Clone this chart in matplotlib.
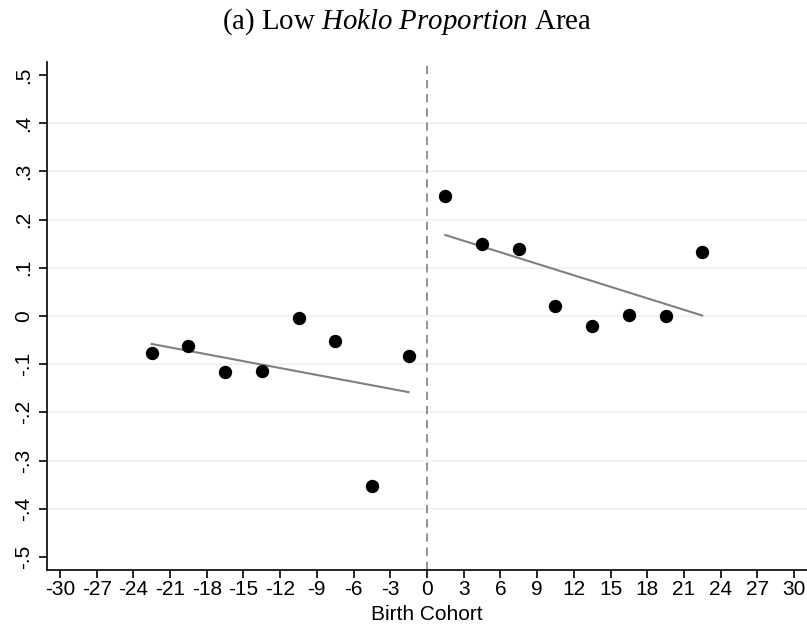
import matplotlib.pyplot as plt

# Binned means by birth cohort
left_x = [-22.5, -19.5, -16.5, -13.5, -10.5, -7.5, -4.5, -1.5]
left_y = [-0.076, -0.062, -0.117, -0.114, -0.004, -0.051, -0.352, -0.084]
right_x = [1.5, 4.5, 7.5, 10.5, 13.5, 16.5, 19.5, 22.5]
right_y = [0.250, 0.149, 0.140, 0.021, -0.021, 0.003, 0.000, 0.133]

# Linear fit endpoints
left_fit_x = [-22.5, -1.5]
left_fit_y = [-0.058, -0.158]
right_fit_x = [1.5, 22.5]
right_fit_y = [0.168, 0.001]

xticks = list(range(-30, 31, 3))
yticks = [-0.5, -0.4, -0.3, -0.2, -0.1, 0, 0.1, 0.2, 0.3, 0.4, 0.5]
ytick_labels = ['-.5', '-.4', '-.3', '-.2', '-.1', '0', '.1', '.2', '.3', '.4', '.5']

plt.rcParams['font.family'] = ['Liberation Sans', 'DejaVu Sans']
plt.rcParams['mathtext.fontset'] = 'custom'
plt.rcParams['mathtext.rm'] = 'Liberation Serif'
plt.rcParams['mathtext.it'] = 'Liberation Serif:italic'

fig = plt.figure(figsize=(8.07, 6.3), dpi=100)
ax = fig.add_axes([0.0582, 0.0952, 0.9418, 0.8064])

# Grid lines (not at the end ticks)
for yv in yticks[1:-1]:
    ax.axhline(yv, color='#eaf2f3', linewidth=1.2, zorder=0)

ax.axvline(0, color='#808080', linestyle=(0, (5, 3.5)), linewidth=1.2, zorder=1)

ax.plot(left_fit_x, left_fit_y, color='#808080', linewidth=1.5, zorder=2)
ax.plot(right_fit_x, right_fit_y, color='#808080', linewidth=1.5, zorder=2)
ax.plot(left_x, left_y, 'o', color='black', markersize=8.6, zorder=3)
ax.plot(right_x, right_y, 'o', color='black', markersize=8.6, zorder=3)

ax.set_xlim(-31.06, 31.06)
ax.set_ylim(-0.527, 0.527)
ax.set_xticks(xticks)
ax.set_xticklabels([str(t) for t in xticks], fontsize=15)
ax.set_yticks(yticks)
ax.set_yticklabels(ytick_labels, fontsize=15, rotation=90, va='center')

for side in ['top', 'right']:
    ax.spines[side].set_visible(False)
for side in ['left', 'bottom']:
    ax.spines[side].set_linewidth(1.2)
ax.tick_params(direction='out', length=6, width=1.2)
ax.tick_params(axis='x', pad=1.5)
ax.tick_params(axis='y', pad=4)

ax.set_xlabel('Birth Cohort', fontsize=15, labelpad=4)
fig.text(0.504, 0.966, r'(a) Low $\mathit{Hoklo\ Proportion}$ Area',
         ha='center', va='center', fontsize=20.8, family='Liberation Serif')

fig.savefig('out.png', dpi=100, facecolor='white')
